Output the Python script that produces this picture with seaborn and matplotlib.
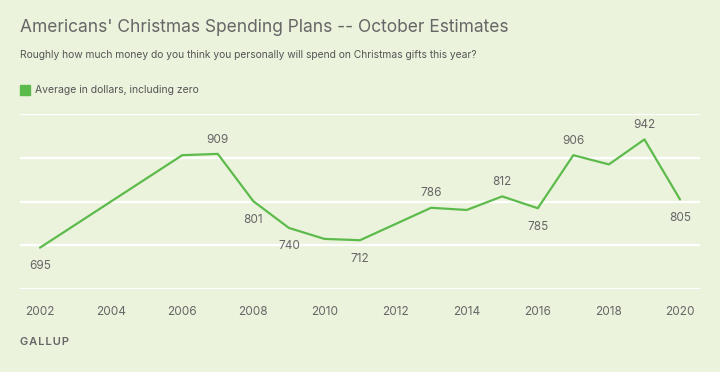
import numpy as np
import pandas as pd
import matplotlib
matplotlib.use("Agg")
import matplotlib.pyplot as plt
import seaborn as sns

# data
years = [2002, 2006, 2007, 2008, 2009, 2010, 2011, 2013, 2014, 2015, 2016, 2017, 2018, 2019, 2020]
spending = [695, 906, 909, 801, 740, 715, 712, 786, 781, 812, 785, 906, 885, 942, 805]
labels_below = [2002, 2008, 2009, 2011, 2016, 2020]
labels_above = [2007, 2013, 2015, 2017, 2019]
tick_years = list(range(2002, 2021, 2))

bg = "#EBF3DD"
green = "#5DBB4C"
grey = "#666666"

sns.set_style("white")
plt.rcParams["font.family"] = ["Inter", "DejaVu Sans"]

df = pd.DataFrame({"year": years, "spending": spending})

fig = plt.figure(figsize=(7.2, 3.72), dpi=100, facecolor=bg)
ax = fig.add_axes([20 / 720, 1 - 289.3 / 372, 680 / 720, (289.3 - 114) / 372])
ax.set_facecolor(bg)

sns.lineplot(data=df, x="year", y="spending", color=green, linewidth=1.6, ax=ax)

ax.set_xlim(2002 - 20 / 35.56, 2020 + 20 / 35.56)
ax.set_ylim(600, 1000)
ax.set_yticks([600, 700, 800, 900, 1000])
ax.set_yticklabels([])
ax.yaxis.grid(True, color="white", linewidth=1.6)
ax.set_axisbelow(True)
ax.set_xticks(tick_years)
ax.set_xticklabels([str(y) for y in tick_years], color=grey, fontsize=8.5)
ax.tick_params(axis="x", length=7, width=1.6, color="white", pad=5)
ax.tick_params(axis="y", length=0)
for s in ax.spines.values():
    s.set_visible(False)
ax.set_xlabel("")
ax.set_ylabel("")

for y, v in zip(years, spending):
    if y in labels_below:
        ax.annotate(str(v), (y, v), xytext=(0, -9), textcoords="offset points",
                    ha="center", va="top", color=grey, fontsize=8.5)
    elif y in labels_above:
        ax.annotate(str(v), (y, v), xytext=(0, 6), textcoords="offset points",
                    ha="center", va="bottom", color=grey, fontsize=8.5)

fig.text(20 / 720, 1 - 27 / 372, "Americans' Christmas Spending Plans -- October Estimates",
         color=grey, fontsize=12.5, va="center")
fig.text(20 / 720, 1 - 55 / 372,
         "Roughly how much money do you think you personally will spend on Christmas gifts this year?",
         color="#555555", fontsize=7.4, va="center")
fig.patches.append(plt.Rectangle((20 / 720, 1 - 95 / 372), 10 / 720, 10 / 372,
                                 transform=fig.transFigure, color=green))
fig.text(35 / 720, 1 - 90 / 372, "Average in dollars, including zero",
         color="#555555", fontsize=7.5, va="center")
fig.text(20 / 720, 1 - 342 / 372, "\u200a".join("GALLUP"), color=grey, fontsize=8,
         fontweight="semibold", va="center")

fig.savefig("out.png", dpi=100, facecolor=bg)
